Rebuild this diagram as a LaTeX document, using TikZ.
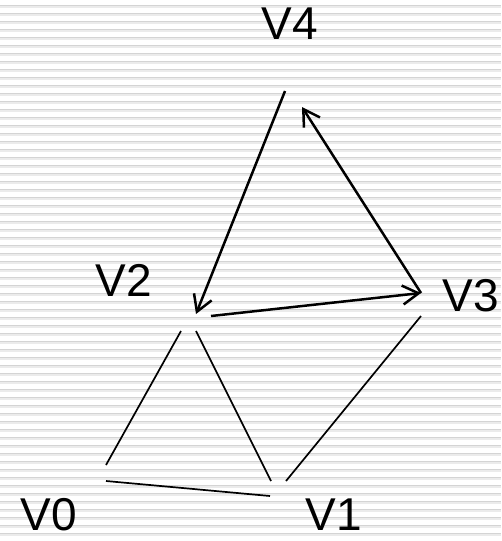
\documentclass[tikz,border=0pt]{standalone}
\usepackage{fontspec}
\setmainfont{Liberation Sans}
\usetikzlibrary{arrows.meta}
\begin{document}
\begin{tikzpicture}[x=1pt,y=-1pt,
  lbl/.style={font=\fontsize{46}{50}\selectfont, inner sep=0pt},
  edge/.style={line width=1.7pt},
  arc/.style={line width=2.5pt, -{Straight Barb[length=16pt,width=19pt]}}]
  \useasboundingbox (0,0) rectangle (501,541);
  \foreach \y in {5,13,...,541} {
    \fill[black!17] (0,\y) rectangle (501,\y+1);
    \fill[black!8] (0,\y+1) rectangle (501,\y+2.5);
  }
  % labels
  \node[lbl] (v0) at (49,515) {V0};
  \node[lbl] (v1) at (334,515) {V1};
  \node[lbl] (v2) at (124,280) {V2};
  \node[lbl] (v3) at (471,296) {V3};
  \node[lbl] (v4) at (290,24) {V4};
  % ends of the edges
  \coordinate (a42) at (285,91);  \coordinate (b42) at (196,314);
  \coordinate (a23) at (211,316); \coordinate (b23) at (421,293);
  \coordinate (b34) at (302,107);
  \coordinate (a20) at (181,331); \coordinate (b20) at (106,465);
  \coordinate (a21) at (196,331); \coordinate (b21) at (271,481);
  \coordinate (a31) at (421,316); \coordinate (b31) at (286,481);
  \coordinate (a01) at (106,481); \coordinate (b01) at (270,496);
  \draw[arc] (a42) -- (b42);
  \draw[arc] (a23) -- (b23);
  \draw[arc] (b23) -- (b34);
  \draw[edge] (a20) -- (b20);
  \draw[edge] (a21) -- (b21);
  \draw[edge] (a31) -- (b31);
  \draw[edge] (a01) -- (b01);
\end{tikzpicture}
\end{document}
